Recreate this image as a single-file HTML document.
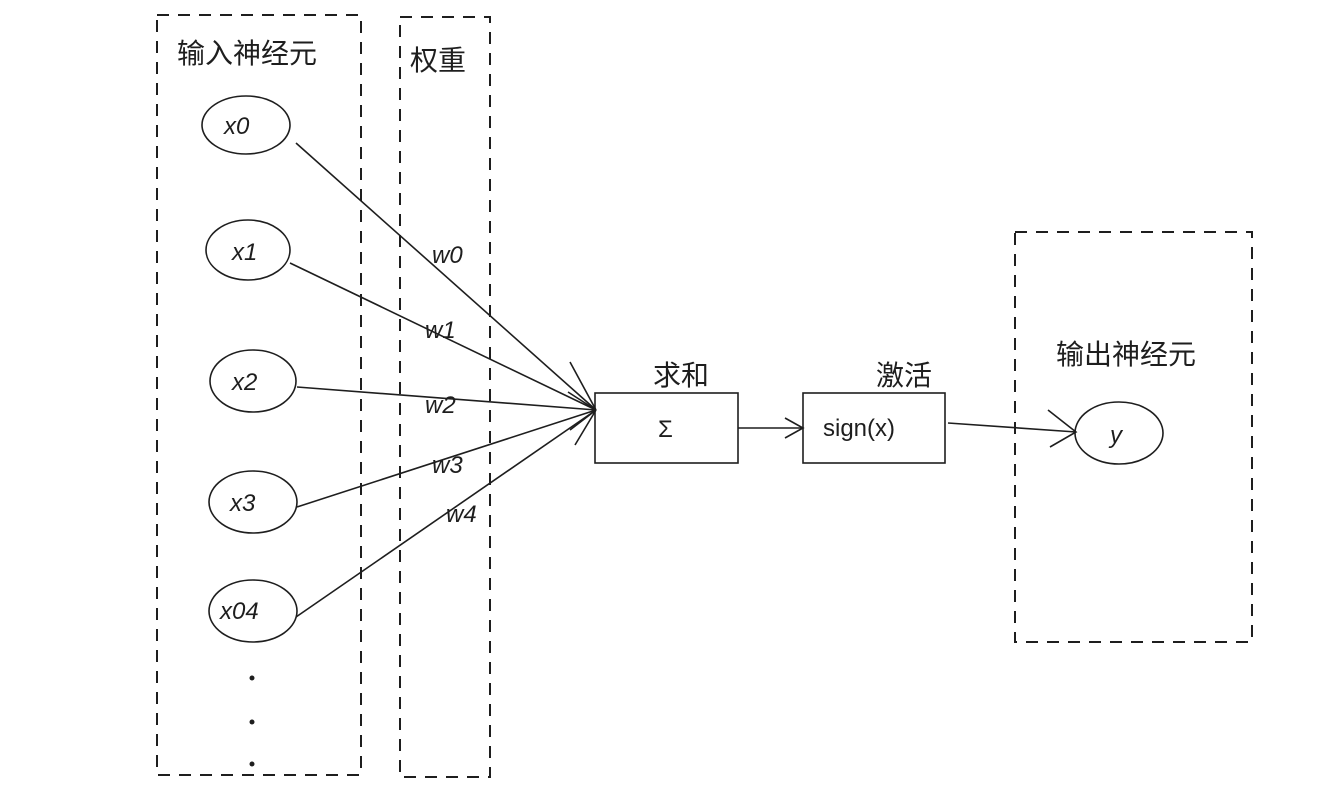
<!DOCTYPE html>
<html><head><meta charset="utf-8"><style>
html,body{margin:0;padding:0;background:#fff;}
svg{display:block;}
text{font-family:"Liberation Sans","Noto Sans CJK SC",sans-serif;fill:#1e1e1e;}
.d{fill:none;stroke:#1e1e1e;stroke-width:2;stroke-dasharray:12 9;}
.s{fill:none;stroke:#1e1e1e;stroke-width:1.6;}
</style></head><body>
<svg width="1342" height="790" viewBox="0 0 1342 790" xmlns="http://www.w3.org/2000/svg">
<rect class="d" x="157" y="15" width="204" height="760"/>
<rect class="d" x="400" y="17" width="90" height="760"/>
<rect class="d" x="1015" y="232" width="237" height="410"/>
<text x="177" y="63" font-size="28">输入神经元</text>
<text x="410" y="70" font-size="28">权重</text>
<text x="1056" y="364" font-size="28">输出神经元</text>
<text x="653" y="385" font-size="28">求和</text>
<text x="876" y="385" font-size="28">激活</text>
<g class="s">
<ellipse cx="246" cy="125" rx="44" ry="29"/>
<ellipse cx="248" cy="250" rx="42" ry="30"/>
<ellipse cx="253" cy="381" rx="43" ry="31"/>
<ellipse cx="253" cy="502" rx="44" ry="31"/>
<ellipse cx="253" cy="611" rx="44" ry="31"/>
<ellipse cx="1119" cy="433" rx="44" ry="31"/>
<rect x="595" y="393" width="143" height="70"/>
<rect x="803" y="393" width="142" height="70"/>
<line x1="296" y1="143" x2="596" y2="410"/>
<line x1="290" y1="263" x2="596" y2="410"/>
<line x1="297" y1="387" x2="596" y2="410"/>
<line x1="297" y1="507" x2="596" y2="410"/>
<line x1="296" y1="617" x2="596" y2="410"/>
<path d="M570 362 L596 410 M568 392 L596 410 M570 430 L596 410 M575 445 L596 410"/>
<line x1="738" y1="428" x2="803" y2="428"/>
<path d="M785 418 L803 428 L785 438"/>
<line x1="948" y1="423" x2="1076" y2="432"/>
<path d="M1048 410 L1076 432 L1050 447"/>
</g>
<g font-size="24" font-style="italic">
<text x="224" y="134">x0</text>
<text x="232" y="260">x1</text>
<text x="232" y="390">x2</text>
<text x="230" y="511">x3</text>
<text x="220" y="619">x04</text>
<text x="1110" y="443">y</text>
<text x="432" y="263">w0</text>
<text x="425" y="338">w1</text>
<text x="425" y="413">w2</text>
<text x="432" y="473">w3</text>
<text x="446" y="522">w4</text>
</g>
<text x="658" y="437" font-size="24">Σ</text>
<text x="823" y="436" font-size="24">sign(x)</text>
<circle cx="252" cy="678" r="2.5" fill="#1e1e1e"/>
<circle cx="252" cy="722" r="2.5" fill="#1e1e1e"/>
<circle cx="252" cy="764" r="2.5" fill="#1e1e1e"/>
</svg>
</body></html>
